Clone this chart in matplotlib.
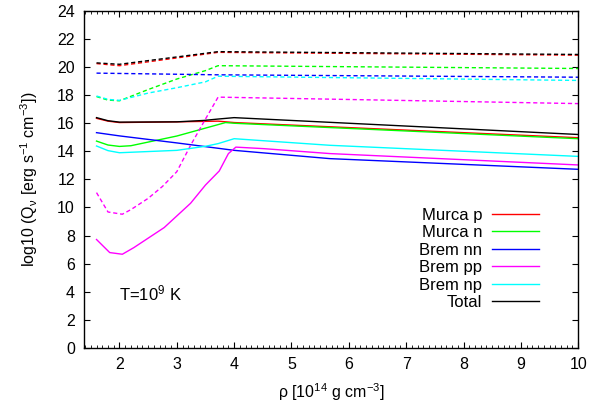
import matplotlib
matplotlib.use("Agg")
import matplotlib.pyplot as plt
from matplotlib.ticker import MultipleLocator

plt.rcParams["font.family"] = ["Liberation Sans", "DejaVu Sans"]
plt.rcParams["mathtext.fontset"] = "custom"
plt.rcParams["mathtext.rm"] = "Liberation Sans"
plt.rcParams["mathtext.default"] = "regular"

# ---------------------------------------------------------------------------
# Emissivities, log10 Q [erg s^-1 cm^-3] vs rho [1e14 g/cc]
# solid = lower set, dashed = upper set
# ---------------------------------------------------------------------------
murca_p_x  = [1.6, 1.8, 2.0, 3.0, 3.72, 4.0, 10.0]
murca_p    = [16.35, 16.15, 16.05, 16.1, 16.15, 16.05, 14.97]
murca_n_x  = [1.6, 1.8, 2.0, 2.2, 3.0, 3.85, 4.0, 10.0]
murca_n    = [14.73, 14.45, 14.35, 14.4, 15.09, 16.05, 16.0, 14.9]
brem_nn_x  = [1.6, 2.0, 3.0, 4.0, 5.67, 10.0]
brem_nn    = [15.33, 15.1, 14.6, 14.07, 13.48, 12.72]
brem_pp_x  = [1.6, 1.83, 2.05, 2.25, 2.78, 3.24, 3.5, 3.74, 3.9, 4.03, 4.52, 5.67, 10.0]
brem_pp    = [7.72, 6.79, 6.67, 7.14, 8.57, 10.3, 11.6, 12.6, 13.84, 14.3, 14.19, 13.84, 13.03]
brem_np_x  = [1.6, 1.8, 2.0, 3.0, 3.5, 3.72, 4.0, 5.67, 10.0]
brem_np    = [14.38, 14.05, 13.9, 14.07, 14.36, 14.55, 14.9, 14.43, 13.64]
total_x    = [1.6, 1.8, 2.0, 3.0, 3.47, 3.72, 4.0, 10.0]
total      = [16.4, 16.18, 16.08, 16.1, 16.2, 16.3, 16.4, 15.2]

murca_p_d_x = [1.6, 2.0, 3.72, 10.0]
murca_p_d   = [20.25, 20.1, 21.05, 20.85]
murca_n_d_x = [1.6, 1.8, 2.0, 2.5, 3.0, 3.5, 3.72, 10.0]
murca_n_d   = [17.9, 17.65, 17.6, 18.4, 19.15, 19.75, 20.1, 19.9]
brem_nn_d_x = [1.6, 3.72, 10.0]
brem_nn_d   = [19.57, 19.45, 19.28]
brem_pp_d_x = [1.6, 1.8, 2.05, 2.2, 2.5, 2.75, 3.0, 3.25, 3.5, 3.72, 10.0]
brem_pp_d   = [11.06, 9.68, 9.52, 9.85, 10.65, 11.5, 12.55, 14.5, 16.3, 17.86, 17.4]
brem_np_d_x = [1.6, 1.8, 2.0, 2.5, 3.0, 3.5, 3.72, 10.0]
brem_np_d   = [17.94, 17.7, 17.63, 18.15, 18.53, 18.95, 19.35, 19.05]
total_d_x   = [1.6, 2.0, 3.72, 10.0]
total_d     = [20.3, 20.2, 21.1, 20.9]

labels = ["Murca p", "Murca n", "Brem nn", "Brem pp", "Brem np", "Total"]
colors = ["#ff0000", "#00ff00", "#0000ff", "#ff00ff", "#00ffff", "#000000"]

solid = [(murca_p_x, murca_p), (murca_n_x, murca_n), (brem_nn_x, brem_nn),
         (brem_pp_x, brem_pp), (brem_np_x, brem_np), (total_x, total)]
dashed = [(murca_p_d_x, murca_p_d), (murca_n_d_x, murca_n_d), (brem_nn_d_x, brem_nn_d),
          (brem_pp_d_x, brem_pp_d), (brem_np_d_x, brem_np_d), (total_d_x, total_d)]

fig = plt.figure(figsize=(6.08, 4.05), dpi=100)
ax = fig.add_axes([0.138, 0.141, 0.813, 0.832])

for (x, y), (xd, yd), lab, c in zip(solid, dashed, labels, colors):
    ax.plot(x, y, color=c, lw=1.0, label=lab)
    ax.plot(xd, yd, color=c, lw=1.0, ls=(0, (3, 2)))

ax.set_xlim(1.38, 10)
ax.set_ylim(0, 24)
ax.xaxis.set_major_locator(MultipleLocator(1))
ax.xaxis.set_minor_locator(MultipleLocator(0.1))
ax.yaxis.set_major_locator(MultipleLocator(2))
ax.tick_params(which="both", direction="in", top=True, right=True, labelsize=11.5)
ax.tick_params(which="major", length=4, width=0.8, pad=6.5)
ax.tick_params(which="minor", length=2, width=0.6)
for s in ax.spines.values():
    s.set_linewidth(1.0)

ax.set_xlabel(r"ρ [10$^{14}$ g cm$^{-3}$]", fontsize=11.5, labelpad=7)
ax.set_ylabel(r"log10 (Q$_{ν}$ [erg s$^{-1}$ cm$^{-3}$])", fontsize=11.5, labelpad=12)

ax.text(2.0, 3.9, r"T=10$^{9}$ K", fontsize=12, va="center", ha="left")

ax.legend(loc="upper right", bbox_to_anchor=(0.921, 0.416), frameon=False,
          markerfirst=False, fontsize=12, handlelength=2.8, handletextpad=0.6,
          labelspacing=0.15, borderpad=0, borderaxespad=0)

fig.savefig("out.png", dpi=100)
